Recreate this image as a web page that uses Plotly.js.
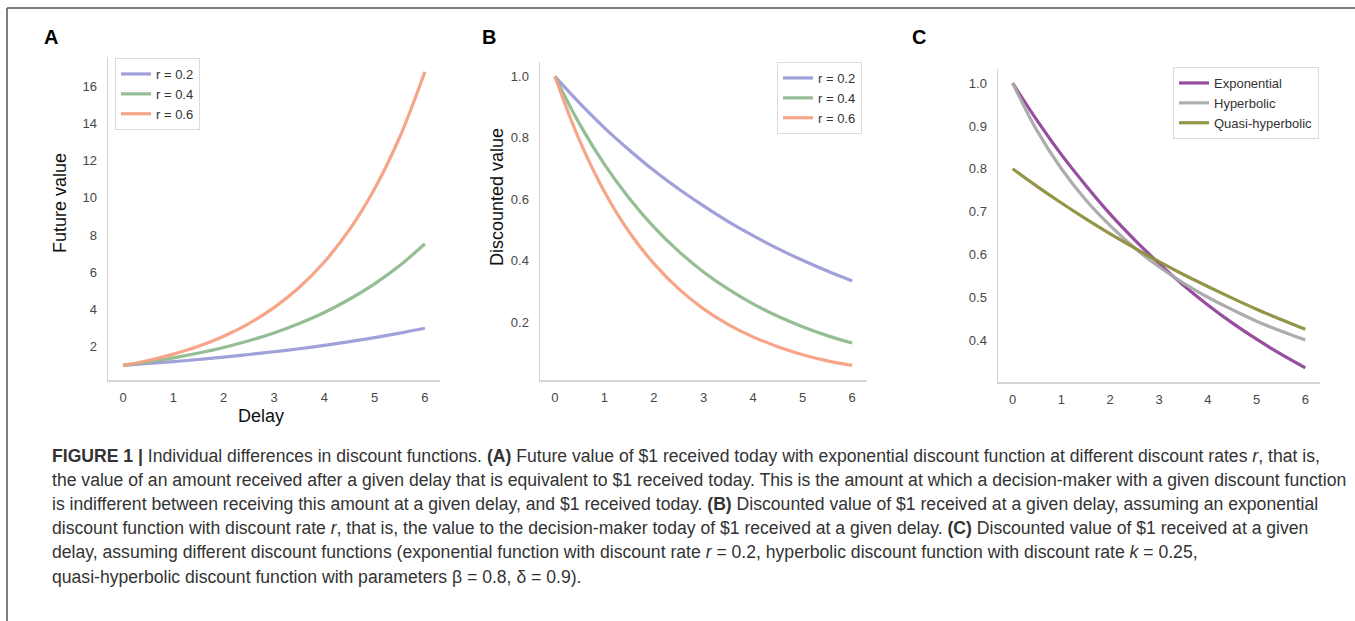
<!DOCTYPE html>
<html>
<head>
<meta charset="utf-8">
<script src="https://cdn.plot.ly/plotly-3.0.1.min.js"></script>
<style>html,body{margin:0;padding:0;background:#fff;}#chart{width:1355px;height:621px;}</style>
</head>
<body>
<div id="chart"></div>
<script>
// ---- data ----
const delay = [0, 0.5, 1, 1.5, 2, 2.5, 3, 3.5, 4, 4.5, 5, 5.5, 6];

const futureR02 = [1, 1.10, 1.20, 1.31, 1.44, 1.58, 1.73, 1.89, 2.07, 2.27, 2.49, 2.73, 2.99];
const futureR04 = [1, 1.18, 1.40, 1.66, 1.96, 2.32, 2.74, 3.25, 3.84, 4.55, 5.38, 6.36, 7.53];
const futureR06 = [1, 1.26, 1.60, 2.02, 2.56, 3.24, 4.10, 5.18, 6.55, 8.29, 10.49, 13.27, 16.78];

const discR02 = [1, 0.913, 0.833, 0.761, 0.694, 0.634, 0.579, 0.528, 0.482, 0.440, 0.402, 0.367, 0.335];
const discR04 = [1, 0.845, 0.714, 0.604, 0.510, 0.431, 0.364, 0.308, 0.260, 0.220, 0.186, 0.157, 0.133];
const discR06 = [1, 0.791, 0.625, 0.494, 0.391, 0.309, 0.244, 0.193, 0.153, 0.121, 0.095, 0.075, 0.060];

const exponential = [1, 0.913, 0.833, 0.761, 0.694, 0.634, 0.579, 0.528, 0.482, 0.440, 0.402, 0.367, 0.335];
const hyperbolic  = [1, 0.889, 0.800, 0.727, 0.667, 0.615, 0.571, 0.533, 0.500, 0.471, 0.444, 0.421, 0.400];
const quasiHyper  = [0.8, 0.759, 0.720, 0.683, 0.648, 0.615, 0.583, 0.553, 0.525, 0.498, 0.472, 0.448, 0.425];

const rateLabels = ['r = 0.2', 'r = 0.4', 'r = 0.6'];
const funcLabels = ['Exponential', 'Hyperbolic', 'Quasi-hyperbolic'];
const xTicks = [0, 1, 2, 3, 4, 5, 6];
const yTicksA = [2, 4, 6, 8, 10, 12, 14, 16];
const yTicksB = [0.2, 0.4, 0.6, 0.8, 1.0];
const yTicksC = [0.4, 0.5, 0.6, 0.7, 0.8, 0.9, 1.0];

const captionLines = [
  '<b>FIGURE 1 |</b> Individual differences in discount functions. <b>(A)</b> Future value of $1 received today with exponential discount function at different discount rates <i>r</i>, that is,',
  'the value of an amount received after a given delay that is equivalent to $1 received today. This is the amount at which a decision-maker with a given discount function',
  'is indifferent between receiving this amount at a given delay, and $1 received today. <b>(B)</b> Discounted value of $1 received at a given delay, assuming an exponential',
  'discount function with discount rate <i>r</i>, that is, the value to the decision-maker today of $1 received at a given delay. <b>(C)</b> Discounted value of $1 received at a given',
  'delay, assuming different discount functions (exponential function with discount rate <i>r</i> = 0.2, hyperbolic discount function with discount rate <i>k</i> = 0.25,',
  'quasi-hyperbolic discount function with parameters β = 0.8, δ = 0.9).'
];

// ---- styling / layout ----
const W = 1355, H = 621;
const px = x => x / W;
const py = y => 1 - y / H;
const FONT = 'Liberation Sans, Arial, Helvetica, sans-serif';
const rateColors = ['#9b9bd8', '#8fbb8f', '#f7a083'];
const funcColors = ['#91449a', '#a9a9a9', '#8f8f3e'];

const traces = [];
[futureR02, futureR04, futureR06].forEach((ys, i) => traces.push({
  x: delay, y: ys, name: rateLabels[i], type: 'scatter', mode: 'lines',
  line: {color: rateColors[i], width: 3.2, shape: 'spline'}, opacity: 0.95,
  xaxis: 'x', yaxis: 'y', legend: 'legend'
}));
[discR02, discR04, discR06].forEach((ys, i) => traces.push({
  x: delay, y: ys, name: rateLabels[i], type: 'scatter', mode: 'lines',
  line: {color: rateColors[i], width: 3.2, shape: 'spline'}, opacity: 0.95,
  xaxis: 'x2', yaxis: 'y2', legend: 'legend2'
}));
[exponential, hyperbolic, quasiHyper].forEach((ys, i) => traces.push({
  x: delay, y: ys, name: funcLabels[i], type: 'scatter', mode: 'lines',
  line: {color: funcColors[i], width: 3.2, shape: 'spline'}, opacity: 0.95,
  xaxis: 'x3', yaxis: 'y3', legend: 'legend3'
}));

function xax(dom, anchor) {
  return {domain: dom, anchor: anchor, range: [-0.3, 6.3], tickvals: xTicks,
    showgrid: false, zeroline: false, showline: true, linecolor: '#d4d4d4', linewidth: 1.5,
    ticks: 'outside', ticklen: 5, tickcolor: 'rgba(0,0,0,0)',
    tickfont: {family: FONT, size: 13, color: '#474747'}, fixedrange: true};
}
function yax(dom, anchor, range, vals, fmt) {
  return {domain: dom, anchor: anchor, range: range, tickvals: vals, tickformat: fmt,
    showgrid: false, zeroline: false, showline: true, linecolor: '#d4d4d4', linewidth: 1.5,
    ticks: 'outside', ticklen: 7, tickcolor: 'rgba(0,0,0,0)',
    tickfont: {family: FONT, size: 13, color: '#474747'}, fixedrange: true};
}
function leg(x, y) {
  return {x: px(x), y: py(y), xanchor: 'left', yanchor: 'top', bgcolor: '#ffffff',
    bordercolor: '#dcdcdc', borderwidth: 1, font: {family: FONT, size: 13, color: '#333'},
    tracegroupgap: 0, itemwidth: 30};
}

const annotations = [
  {text: '<b>A</b>', x: px(51), y: py(37), font: {size: 20, family: FONT, color: '#000'}},
  {text: '<b>B</b>', x: px(489), y: py(37), font: {size: 20, family: FONT, color: '#000'}},
  {text: '<b>C</b>', x: px(919), y: py(37), font: {size: 20, family: FONT, color: '#000'}},
  {text: 'Future value', x: px(60), y: py(203), textangle: -90, font: {size: 18, family: FONT, color: '#111'}},
  {text: 'Delay', x: px(261), y: py(416), font: {size: 18, family: FONT, color: '#111'}},
  {text: 'Discounted value', x: px(497), y: py(197), textangle: -90, font: {size: 18, family: FONT, color: '#111'}}
].map(a => Object.assign({xref: 'paper', yref: 'paper', showarrow: false, xanchor: 'center', yanchor: 'middle'}, a));

captionLines.forEach((t, i) => annotations.push({
  text: t, xref: 'paper', yref: 'paper', x: px(50), y: py(456 + i * 24.1),
  xanchor: 'left', yanchor: 'middle', align: 'left', showarrow: false,
  font: {family: FONT, size: 17.6, color: '#333'}
}));

const layout = {
  width: W, height: H, margin: {l: 0, r: 0, t: 0, b: 0},
  paper_bgcolor: '#fff', plot_bgcolor: '#fff',
  font: {family: FONT},
  xaxis: xax([px(108), px(440)], 'y'),
  yaxis: yax([py(380), py(57)], 'x', [0.21, 17.57], yTicksA, 'd'),
  xaxis2: xax([px(540), px(867)], 'y2'),
  yaxis2: yax([py(380), py(62)], 'x2', [0.0126, 1.047], yTicksB, '.1f'),
  xaxis3: xax([px(998), px(1320)], 'y3'),
  yaxis3: yax([py(382), py(69)], 'x3', [0.302, 1.033], yTicksC, '.1f'),
  legend: leg(115, 58),
  legend2: leg(777, 62),
  legend3: leg(1173, 67),
  annotations: annotations,
  shapes: [
    {type: 'line', xref: 'paper', yref: 'paper', x0: px(7), x1: 1, y0: py(8), y1: py(8), line: {color: '#555', width: 1.5}},
    {type: 'line', xref: 'paper', yref: 'paper', x0: px(7), x1: px(7), y0: py(8), y1: 0, line: {color: '#555', width: 1.5}}
  ]
};

Plotly.newPlot('chart', traces, layout, {displayModeBar: false, staticPlot: true});
</script>
</body>
</html>
